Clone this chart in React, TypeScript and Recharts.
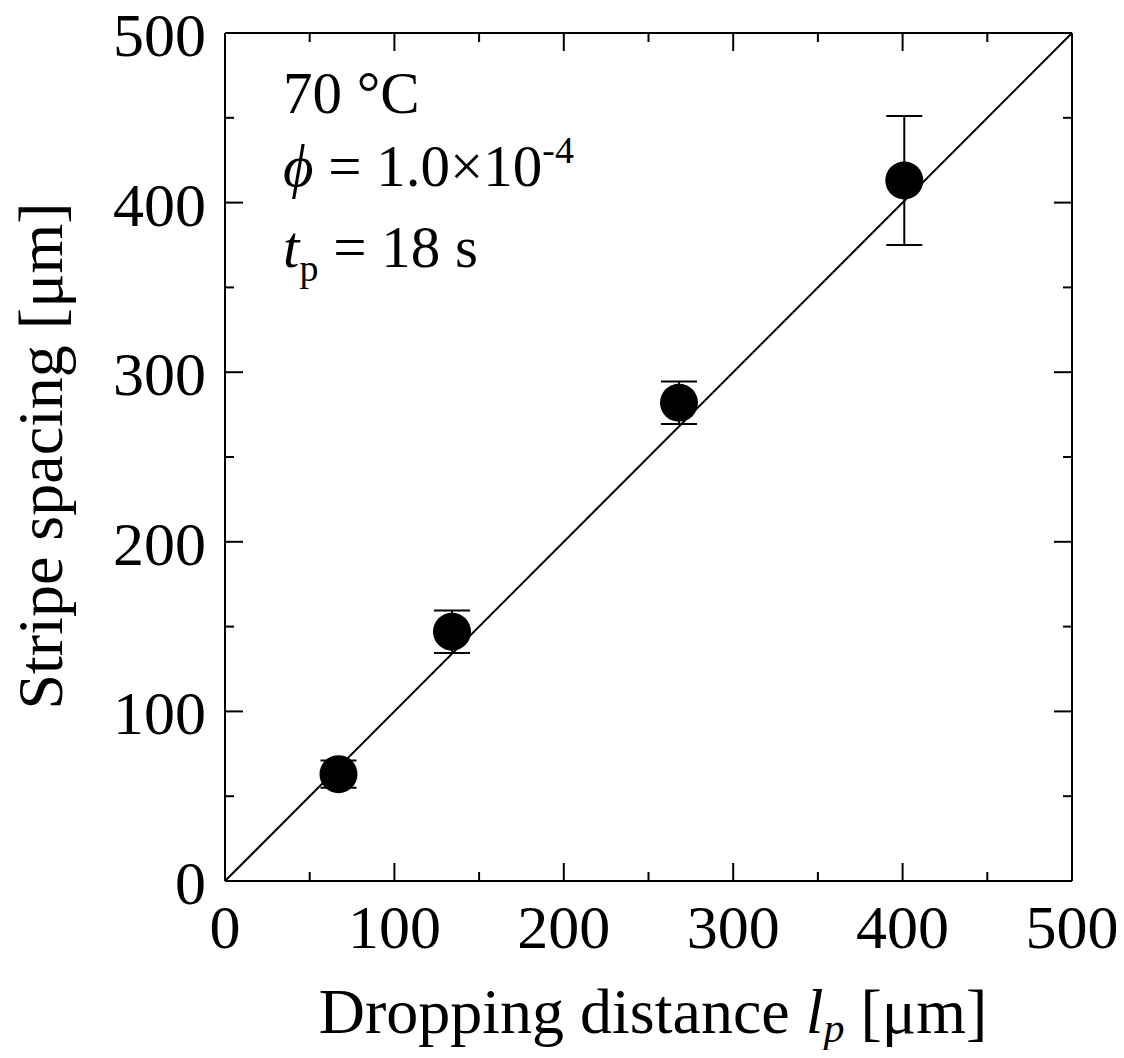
import { ComposedChart, Scatter, ErrorBar, XAxis, YAxis, ReferenceLine } from 'recharts'

const dropDist = [67, 134, 268, 401]
const spacing = [63, 147, 282, 413]
const spacingErr = [8, 12.5, 12.5, 38]
const fitX = [0, 500]
const fitY = [0, 500]
const ticks = [0, 50, 100, 150, 200, 250, 300, 350, 400, 450, 500]

// chart covers the whole page (body margin cancelled), so coords = page pixels
const W = 1124
const H = 1058
const LEFT = 225
const TOP = 33
const RIGHT = 1072
const BOTTOM = 881
const FONT = "'Liberation Serif', 'Times New Roman', Times, serif"
const TICK_FS = 62
const LABEL_FS = 64
const NOTE_FS = 59
const txt = { fontFamily: FONT }

const data = dropDist.map((x, i) => ({ x, y: spacing[i], err: spacingErr[i] }))

const len = (v: number) => (v % 100 === 0 ? 18 : 9)

function BottomTick(props: any) {
  const { x, payload } = props
  const v = payload.value
  return (
    <g>
      <line x1={x} y1={BOTTOM} x2={x} y2={BOTTOM - len(v)} stroke="#000" strokeWidth={2} />
      {v % 100 === 0 && (
        <text x={x} y={948} textAnchor="middle" style={txt} fontSize={TICK_FS} fill="#000">
          {v}
        </text>
      )}
    </g>
  )
}

function TopTick(props: any) {
  const { x, payload } = props
  return <line x1={x} y1={TOP} x2={x} y2={TOP + len(payload.value)} stroke="#000" strokeWidth={2} />
}

function LeftTick(props: any) {
  const { y, payload } = props
  const v = payload.value
  return (
    <g>
      <line x1={LEFT} y1={y} x2={LEFT + len(v)} y2={y} stroke="#000" strokeWidth={2} />
      {v % 100 === 0 && (
        <text x={206} y={y + 23} textAnchor="end" style={txt} fontSize={TICK_FS} fill="#000">
          {v}
        </text>
      )}
    </g>
  )
}

function RightTick(props: any) {
  const { y, payload } = props
  return <line x1={RIGHT} y1={y} x2={RIGHT - len(payload.value)} y2={y} stroke="#000" strokeWidth={2} />
}

const Dot = (props: any) => <circle cx={props.cx} cy={props.cy} r={19} fill="#000" />

export default function App() {
  return (
    <div style={{ position: 'relative', width: W, height: H, margin: -8, fontFamily: FONT }}>
      <ComposedChart
        width={W}
        height={H}
        data={data}
        margin={{ top: TOP - 10, right: W - RIGHT - 10, bottom: H - BOTTOM - 60, left: LEFT - 120 }}
      >
        <XAxis xAxisId="b" type="number" dataKey="x" domain={[0, 500]} ticks={ticks} interval={0}
          height={60} axisLine={{ stroke: '#000', strokeWidth: 2 }} tickLine={false} tick={<BottomTick />} />
        <XAxis xAxisId="t" orientation="top" type="number" dataKey="x" domain={[0, 500]} ticks={ticks} interval={0}
          height={10} axisLine={{ stroke: '#000', strokeWidth: 2 }} tickLine={false} tick={<TopTick />} />
        <YAxis yAxisId="l" type="number" dataKey="y" domain={[0, 500]} ticks={ticks} interval={0}
          width={120} axisLine={{ stroke: '#000', strokeWidth: 2 }} tickLine={false} tick={<LeftTick />} />
        <YAxis yAxisId="r" orientation="right" type="number" dataKey="y" domain={[0, 500]} ticks={ticks} interval={0}
          width={10} axisLine={{ stroke: '#000', strokeWidth: 2 }} tickLine={false} tick={<RightTick />} />
        <ReferenceLine xAxisId="b" yAxisId="l"
          segment={[{ x: fitX[0], y: fitY[0] }, { x: fitX[1], y: fitY[1] }]}
          stroke="#000" strokeWidth={2} ifOverflow="visible" />
        <Scatter xAxisId="b" yAxisId="l" dataKey="y" shape={<Dot />} isAnimationActive={false}>
          <ErrorBar dataKey="err" direction="y" width={18} stroke="#000" strokeWidth={2} />
        </Scatter>
      </ComposedChart>
      <svg width={W} height={H} style={{ position: 'absolute', left: 0, top: 0, pointerEvents: 'none', fontFamily: FONT }}
        fill="#000">
        <text x={283} y={113} fontSize={NOTE_FS}>70 °C</text>
        <text x={283} y={186} fontSize={NOTE_FS}>
          <tspan fontStyle="italic">ϕ</tspan>
          <tspan> = 1.0×10</tspan>
          <tspan fontSize={38} dy={-23}>-4</tspan>
        </text>
        <text x={283} y={267} fontSize={NOTE_FS}>
          <tspan fontStyle="italic">t</tspan>
          <tspan fontSize={38} dy={14}>p</tspan>
          <tspan dy={-14}> = 18 s</tspan>
        </text>
        <text x={653} y={1033} fontSize={LABEL_FS} textAnchor="middle">
          <tspan>Dropping distance </tspan>
          <tspan fontStyle="italic">l</tspan>
          <tspan fontStyle="italic" fontSize={42} dy={9}>p</tspan>
          <tspan dy={-9}> [μm]</tspan>
        </text>
        <text transform="translate(62, 456) rotate(-90)" fontSize={LABEL_FS} textAnchor="middle">
          Stripe spacing [μm]
        </text>
      </svg>
    </div>
  )
}
